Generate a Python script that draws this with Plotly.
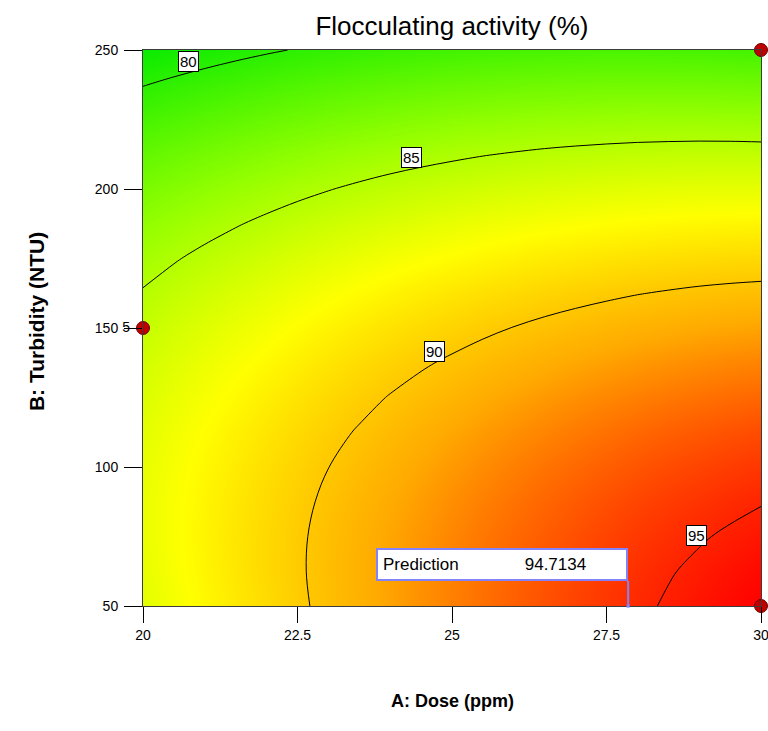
import plotly.graph_objects as go

# Factor grid (A: Dose in ppm, B: Turbidity in NTU)
dose = [20.0, 20.5, 21.0, 21.5, 22.0, 22.5, 23.0, 23.5, 24.0, 24.5, 25.0,
        25.5, 26.0, 26.5, 27.0, 27.5, 28.0, 28.5, 29.0, 29.5, 30.0]
turbidity = [50, 62.5, 75, 87.5, 100, 112.5, 125, 137.5, 150, 162.5, 175,
             187.5, 200, 212.5, 225, 237.5, 250]

# Flocculating activity (%) read from the response surface, one row per turbidity
activity = [
    [86.70, 87.36, 87.99, 88.61, 89.20, 89.78, 90.33, 90.87, 91.38, 91.88, 92.35, 92.81, 93.24, 93.66, 94.05, 94.43, 94.78, 95.12, 95.43, 95.73, 96.00],
    [86.89, 87.52, 88.13, 88.72, 89.30, 89.85, 90.38, 90.89, 91.39, 91.86, 92.31, 92.74, 93.16, 93.55, 93.92, 94.27, 94.61, 94.92, 95.21, 95.49, 95.74],
    [86.98, 87.59, 88.18, 88.75, 89.30, 89.83, 90.34, 90.83, 91.30, 91.75, 92.18, 92.59, 92.98, 93.35, 93.70, 94.03, 94.34, 94.63, 94.90, 95.15, 95.38],
    [86.98, 87.57, 88.14, 88.69, 89.21, 89.72, 90.21, 90.68, 91.13, 91.55, 91.96, 92.35, 92.72, 93.07, 93.39, 93.70, 93.99, 94.26, 94.50, 94.73, 94.94],
    [86.90, 87.46, 88.01, 88.53, 89.04, 89.52, 89.99, 90.43, 90.86, 91.27, 91.65, 92.02, 92.36, 92.69, 92.99, 93.28, 93.54, 93.79, 94.01, 94.22, 94.41],
    [86.72, 87.26, 87.78, 88.29, 88.77, 89.23, 89.68, 90.10, 90.50, 90.89, 91.25, 91.59, 91.91, 92.22, 92.50, 92.76, 93.01, 93.23, 93.43, 93.62, 93.78],
    [86.45, 86.97, 87.47, 87.95, 88.41, 88.85, 89.27, 89.67, 90.06, 90.42, 90.76, 91.08, 91.38, 91.66, 91.92, 92.16, 92.38, 92.58, 92.76, 92.92, 93.06],
    [86.09, 86.59, 87.07, 87.52, 87.96, 88.38, 88.78, 89.16, 89.52, 89.86, 90.17, 90.47, 90.75, 91.01, 91.25, 91.47, 91.66, 91.84, 92.00, 92.14, 92.26],
    [85.64, 86.12, 86.57, 87.01, 87.42, 87.82, 88.20, 88.55, 88.89, 89.20, 89.50, 89.78, 90.03, 90.27, 90.48, 90.68, 90.86, 91.01, 91.15, 91.26, 91.36],
    [85.10, 85.55, 85.99, 86.40, 86.79, 87.17, 87.52, 87.86, 88.17, 88.46, 88.74, 88.99, 89.22, 89.44, 89.63, 89.80, 89.96, 90.09, 90.21, 90.30, 90.37],
    [84.47, 84.90, 85.31, 85.70, 86.07, 86.43, 86.76, 87.07, 87.36, 87.63, 87.88, 88.11, 88.32, 88.52, 88.69, 88.84, 88.97, 89.08, 89.17, 89.24, 89.29],
    [83.75, 84.16, 84.55, 84.91, 85.26, 85.59, 85.90, 86.19, 86.46, 86.71, 86.94, 87.15, 87.33, 87.50, 87.65, 87.78, 87.89, 87.98, 88.05, 88.10, 88.13],
    [82.94, 83.32, 83.69, 84.04, 84.36, 84.67, 84.95, 85.22, 85.47, 85.69, 85.90, 86.09, 86.25, 86.40, 86.53, 86.63, 86.72, 86.79, 86.83, 86.86, 86.87],
    [82.03, 82.40, 82.74, 83.06, 83.37, 83.65, 83.92, 84.16, 84.39, 84.59, 84.77, 84.94, 85.08, 85.21, 85.31, 85.39, 85.46, 85.50, 85.53, 85.53, 85.51],
    [81.04, 81.38, 81.70, 82.00, 82.29, 82.55, 82.79, 83.01, 83.21, 83.39, 83.56, 83.70, 83.82, 83.92, 84.00, 84.07, 84.11, 84.13, 84.13, 84.11, 84.07],
    [79.95, 80.27, 80.57, 80.85, 81.11, 81.35, 81.57, 81.77, 81.95, 82.11, 82.25, 82.37, 82.47, 82.55, 82.61, 82.65, 82.66, 82.66, 82.64, 82.60, 82.54],
    [78.78, 79.08, 79.35, 79.61, 79.85, 80.07, 80.26, 80.44, 80.60, 80.73, 80.85, 80.95, 81.02, 81.08, 81.12, 81.14, 81.13, 81.11, 81.07, 81.00, 80.92],
]

# Contour levels and label placement
levels = [80, 85, 90, 95]
label_dose = [20.73, 24.34, 24.72, 28.96]
label_turb = [245.7, 211.5, 141.7, 75.5]

# Design points
design_dose = [20, 30, 30]
design_turb = [150, 250, 50]
design_text = ["5 ", "", ""]

# Prediction flag
pred_dose = 27.85
pred_turb = 50
pred_value = 94.7134

x_ticks = [20, 22.5, 25, 27.5, 30]
x_ticktext = ["20", "22.5", "25", "27.5", "30"]
y_ticks = [50, 100, 150, 200, 250]

colorscale = [
    [0.0, "rgb(10,235,0)"],
    [0.30, "rgb(150,255,0)"],
    [0.52, "rgb(255,255,0)"],
    [0.72, "rgb(255,170,0)"],
    [0.88, "rgb(255,70,0)"],
    [1.0, "rgb(255,0,0)"],
]

narrow = "Liberation Sans Narrow, Arial Narrow, Arial"

fig = go.Figure()
fig.add_trace(go.Heatmap(
    x=dose, y=turbidity, z=activity, zsmooth="best",
    colorscale=colorscale, zmin=78.78, zmax=96.0, showscale=False,
    hoverinfo="skip",
))
fig.add_trace(go.Contour(
    x=dose, y=turbidity, z=activity,
    contours=dict(start=levels[0], end=levels[-1], size=levels[1] - levels[0], coloring="none"),
    line=dict(color="black", width=1, smoothing=1),
    showscale=False, hoverinfo="skip",
))
fig.add_trace(go.Scatter(
    x=design_dose, y=design_turb, mode="markers+text",
    text=design_text, textposition="middle left",
    textfont=dict(family=narrow, size=14, color="black"),
    marker=dict(size=13, color="rgb(190,0,0)", line=dict(color="rgb(110,0,0)", width=1)),
    cliponaxis=False, showlegend=False, hoverinfo="skip",
))

annotations = []
for lv, lx, ly in zip(levels, label_dose, label_turb):
    annotations.append(dict(
        x=lx, y=ly, xref="x", yref="y", text=str(lv), showarrow=False,
        bgcolor="white", bordercolor="black", borderwidth=1, borderpad=1,
        font=dict(family=narrow, size=15, color="black"),
    ))

annotations.append(dict(
    x=pred_dose, y=pred_turb, xref="x", yref="y",
    text="Prediction" + "\u00a0" * 14 + f"{pred_value:.4f}",
    showarrow=True, ax=0, ay=-25, xanchor="right", yanchor="bottom",
    arrowhead=7, arrowsize=0.4, arrowwidth=2, arrowcolor="rgb(130,130,250)",
    bgcolor="white", bordercolor="rgb(130,130,250)", borderwidth=2, borderpad=5,
    width=238, align="left",
    font=dict(family="Arial, Liberation Sans", size=17, color="black"),
))

annotations.append(dict(
    x=-0.193, y=0.511, xref="paper", yref="paper", text="<b>B: Turbidity (NTU)</b>",
    textangle=-90, showarrow=False,
    font=dict(family="Arial, Liberation Sans", size=21, color="black"),
))
annotations.append(dict(
    x=0.5, y=-0.192, xref="paper", yref="paper", text="<b>A: Dose (ppm)</b>",
    showarrow=False,
    font=dict(family="Arial, Liberation Sans", size=18, color="black"),
))

fig.update_layout(
    width=768, height=731,
    margin=dict(l=143, r=7, t=50, b=125, autoexpand=False),
    paper_bgcolor="white", plot_bgcolor="white",
    title=dict(text="Flocculating activity (%)", x=0.5, xref="paper", y=1 - 26 / 731,
               yanchor="middle", xanchor="center",
               font=dict(family="Arial, Liberation Sans", size=26, color="black")),
    annotations=annotations,
    showlegend=False,
)
tickfont = dict(family=narrow, size=14, color="black")
fig.update_xaxes(range=[20, 30], tickvals=x_ticks, ticktext=x_ticktext, ticks="outside",
                 ticklen=16, tickcolor="black", showline=True, linecolor="rgb(60,60,60)",
                 linewidth=1, mirror=True, showgrid=False, zeroline=False, tickfont=tickfont,
                 ticklabeloverflow="allow", automargin=False)
fig.update_yaxes(range=[50, 250], tickvals=y_ticks, ticks="outside",
                 ticklen=18, tickcolor="black", showline=True, linecolor="rgb(60,60,60)",
                 linewidth=1, mirror=True, showgrid=False, zeroline=False, tickfont=tickfont,
                 ticklabeloverflow="allow", automargin=False, ticklabelstandoff=3)

fig.write_html("out.html")
